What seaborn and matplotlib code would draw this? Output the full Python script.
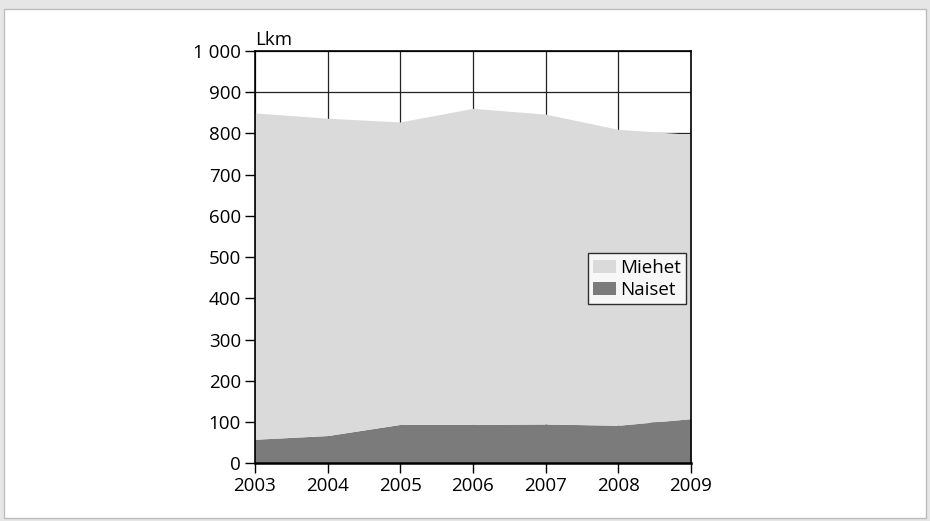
import numpy as np
import matplotlib
matplotlib.use('Agg')
import matplotlib.pyplot as plt
from matplotlib.patches import Rectangle
import seaborn as sns

years   = [2003, 2004, 2005, 2006, 2007, 2008, 2009]
naiset  = [58, 67, 94, 94, 95, 92, 108]
miehet  = [792, 770, 734, 767, 752, 718, 690]
labels  = ['Miehet', 'Naiset']
yticks  = [0, 100, 200, 300, 400, 500, 600, 700, 800, 900, 1000]
ylabels = ['0', '100', '200', '300', '400', '500', '600', '700', '800', '900', '1 000']

sns.set_style('white')
plt.rcParams['font.family'] = ['Open Sans', 'DejaVu Sans']
plt.rcParams['text.color'] = 'black'
plt.rcParams['xtick.color'] = 'black'
plt.rcParams['ytick.color'] = 'black'

fig = plt.figure(figsize=(9.3, 5.21), dpi=100)
fig.patch.set_facecolor('#e6e6e6')
fig.patches.append(Rectangle((0.004, 0.006), 0.992, 0.976, transform=fig.transFigure,
                             facecolor='white', edgecolor='#bdbdbd', linewidth=1, zorder=-5))

ax = fig.add_axes([0.274, 0.111, 0.469, 0.791])
ax.set_zorder(1)
ax.set_axisbelow(True)
ax.grid(True, color='#222222', linewidth=0.9)
ax.stackplot(years, naiset, miehet, colors=['#7b7b7b', '#dadada'],
             labels=['Naiset', 'Miehet'], linewidth=0, zorder=2)

ax.set_xlim(2003, 2009)
ax.set_ylim(0, 1000)
ax.set_xticks(years)
ax.set_yticks(yticks)
ax.set_yticklabels(ylabels)
ax.tick_params(axis='both', labelsize=13.5, direction='out', length=7, width=1,
               color='black', left=True, bottom=True, pad=3)
for s in ax.spines.values():
    s.set_color('black')
    s.set_linewidth(1.2)
ax.spines['bottom'].set_linewidth(1.8)
ax.text(0, 1.006, 'Lkm', transform=ax.transAxes, fontsize=13.5, ha='left', va='bottom')

h, l = ax.get_legend_handles_labels()
leg = ax.legend(h[::-1], l[::-1], loc='center right', bbox_to_anchor=(0.989, 0.447),
                fontsize=13.5, frameon=True, fancybox=False, edgecolor='black',
                handlelength=1.2, handleheight=0.7, handletextpad=0.2,
                borderpad=0.3, labelspacing=0.2, borderaxespad=0.0)
leg.get_frame().set_linewidth(1)

plt.savefig('out.png', dpi=100)
plt.close()
